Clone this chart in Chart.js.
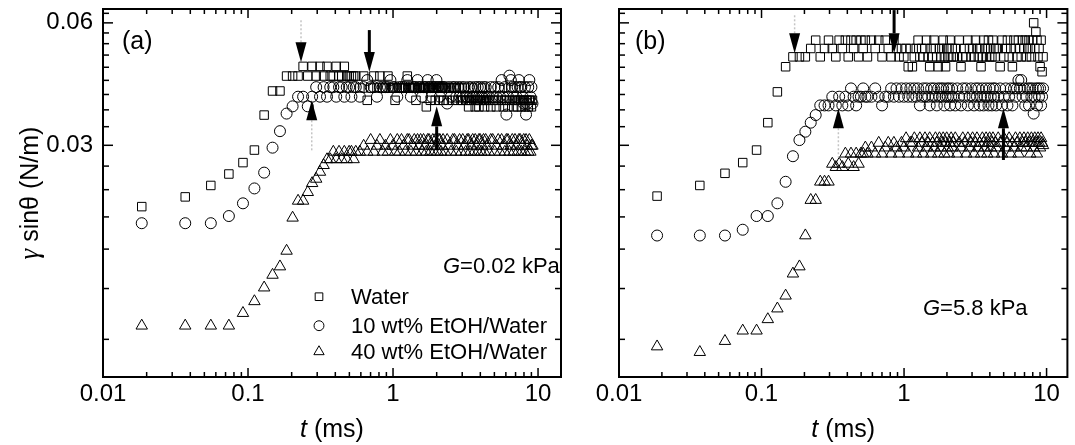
<!DOCTYPE html>
<html><head><meta charset="utf-8">
<script src="https://cdn.jsdelivr.net/npm/chart.js@4.4.1/dist/chart.umd.min.js"></script>
<style>
html,body{margin:0;padding:0;background:#fff;}
body{width:1075px;height:445px;position:relative;overflow:hidden;}
canvas{position:absolute;top:0;}
#ca{left:0;} #cb{left:570px;}
</style></head><body>
<canvas id="ca" width="570" height="445" style="width:570px;height:445px"></canvas>
<canvas id="cb" width="505" height="445" style="width:505px;height:445px"></canvas>
<script>
// ---------------- data ----------------
// sampling times (ms)
const times = [0.0185,0.0369,0.0554,0.0738,0.0923,0.1107,0.1292,0.1476,0.1661,0.1845,
0.2030,0.2214,0.2399,0.2583,0.2768,0.2952,0.3137,0.3321,0.3506,0.3690,
0.3875,0.4059,0.4244,0.4428,0.4613,0.4797,0.4982,0.5166,0.5351,0.5535,
0.5904,0.6273,0.6642,0.7011,0.7380,0.7749,0.8118,0.8487,0.8856,0.9225,0.9594,0.9963,1.0332,1.0701,1.1070,
1.1439,1.1808,1.2177,1.2546,1.2915,1.3284,1.3653,1.4022,1.4391,1.4760,
1.5129,1.5498,1.5867,1.6236,1.6605,1.6974,1.7343,1.7712,1.8081,1.8450,
1.8819,1.9188,1.9557,1.9926,2.0295,2.0664,2.1033,2.1402,2.1771,2.2140,
2.2878,2.3616,2.4354,2.5092,2.5830,2.6568,2.7306,2.8044,2.8782,2.9520,
3.0258,3.0996,3.1734,3.2472,3.3210,3.3948,3.4686,3.5424,3.6162,3.6900,
3.7638,3.8376,3.9114,3.9852,4.0590,4.1328,4.2066,4.2804,4.3542,4.4280,
4.5756,4.7232,4.8708,5.0184,5.1660,5.3136,5.4612,5.6088,5.7564,5.9040,
6.0516,6.1992,6.3468,6.4944,6.6420,6.7896,6.9372,7.0848,7.2324,7.3800,
7.5276,7.6752,7.8228,7.9704,8.1180,8.2656,8.4132,8.5608,8.7084,8.8560,
9.0036,9.1512,9.2988,9.4464];

const seriesNames = ['Water','10 wt% EtOH/Water','40 wt% EtOH/Water'];

// panel (a)  G = 0.02 kPa   (gamma*sin(theta), N/m)
const waterA = [0.0212,0.0224,0.0239,0.0255,0.0272,0.0292,0.0356,0.0408,0.0408,0.0444,
0.0444,0.0444,0.0469,0.0444,0.0469,0.0444,0.0469,0.0444,0.0469,0.0444,
0.0444,0.0469,0.0444,0.0444,0.0469,0.0444,0.0444,0.0444,0.0444,0.0444,
0.0415,0.0444,0.0387,0.0415,0.0444,0.0415,0.0444,0.0415,0.0415,0.0444,0.0415,0.0415,0.0387,0.0415,0.0415,
0.0415,0.0415,0.0415,0.0444,0.0415,0.0415,0.0415,0.0415,0.0387,0.0415,
0.0415,0.0415,0.0415,0.0415,0.0415,0.0373,0.0415,0.0415,0.0387,0.0415,
0.0415,0.0415,0.0387,0.0415,0.0415,0.0415,0.0387,0.0415,0.0415,0.0387,
0.0415,0.0387,0.0415,0.0415,0.0387,0.0415,0.0415,0.0387,0.0415,0.0387,
0.0387,0.0415,0.0387,0.0387,0.0373,0.0387,0.0387,0.0415,0.0387,0.0373,
0.0387,0.0387,0.0373,0.0387,0.0387,0.0415,0.0387,0.0373,0.0387,0.0387,
0.0387,0.0373,0.0387,0.0387,0.0373,0.0387,0.0415,0.0387,0.0373,0.0387,
0.0387,0.0373,0.0387,0.0415,0.0387,0.0373,0.0387,0.0387,0.0373,0.0387,
0.0387,0.0373,0.0387,0.0387,0.0373,0.0387,0.0387,0.0373,0.0387,0.0387,
0.0373,0.0387,null,null];
const eth10A = [0.0193,0.0193,0.0193,0.0201,0.0216,0.0235,0.0257,0.0296,0.0325,0.0359,
0.0374,0.0395,0.0395,0.0374,0.0395,0.0417,0.0395,0.0417,0.0395,0.0417,
0.0417,0.0395,0.0417,0.0417,0.0395,0.0417,0.0417,0.0395,0.0417,0.0417,
0.0395,0.0417,0.0434,0.0417,0.0417,0.0395,0.0417,0.0417,0.0417,0.0417,0.0434,0.0417,0.0417,0.0395,0.0417,
0.0417,0.0417,0.0417,0.0434,0.0417,0.0395,0.0417,0.0417,0.0417,0.0434,
0.0417,0.0417,0.0395,0.0417,0.0417,0.0417,0.0434,0.0417,0.0417,0.0395,
0.0417,0.0417,0.0417,0.0434,0.0417,0.0417,0.0395,0.0417,0.0417,0.0417,
0.0417,0.0380,0.0417,0.0395,0.0417,0.0417,0.0395,0.0417,0.0395,0.0417,
0.0395,0.0417,0.0395,0.0395,0.0417,0.0395,0.0417,0.0395,0.0395,0.0417,
0.0395,0.0417,0.0395,0.0417,0.0395,0.0395,0.0417,0.0395,0.0417,0.0395,
0.0395,0.0417,0.0395,0.0417,0.0395,0.0417,0.0395,0.0434,0.0395,0.0417,
0.0357,0.0395,0.0445,0.0434,0.0417,0.0395,0.0417,0.0395,0.0417,0.0434,
0.0417,0.0417,0.0395,0.0380,0.0417,0.0357,0.0380,0.0417,0.0434,0.0395,
0.0417,0.0380,null,null];
const eth40A = [0.0108,0.0108,0.0108,0.0108,0.0116,0.0124,0.0134,0.0144,0.0151,0.0165,
0.0199,0.0219,0.0219,0.0230,0.0242,0.0248,0.0258,0.0268,0.0277,0.0277,
0.0289,0.0277,0.0289,0.0277,0.0289,0.0277,0.0289,0.0289,0.0277,0.0289,
0.0289,0.0299,0.0289,0.0309,0.0289,0.0299,0.0309,0.0289,0.0299,0.0289,0.0309,0.0299,0.0289,0.0309,0.0289,
0.0309,0.0299,0.0289,0.0309,0.0309,0.0289,0.0299,0.0309,0.0289,0.0309,
0.0299,0.0309,0.0289,0.0309,0.0299,0.0289,0.0309,0.0309,0.0289,0.0299,
0.0309,0.0289,0.0309,0.0299,0.0289,0.0309,0.0309,0.0289,0.0299,0.0309,
0.0289,0.0309,0.0299,0.0289,0.0309,0.0309,0.0289,0.0299,0.0309,0.0289,
0.0309,0.0299,0.0289,0.0309,0.0309,0.0289,0.0299,0.0309,0.0289,0.0309,
0.0299,0.0289,0.0309,0.0309,0.0289,0.0299,0.0309,0.0289,0.0309,0.0299,
0.0289,0.0309,0.0309,0.0289,0.0299,0.0309,0.0289,0.0309,0.0299,0.0289,
0.0309,0.0309,0.0289,0.0299,0.0309,0.0289,0.0309,0.0299,0.0289,0.0309,
0.0309,0.0289,0.0299,0.0309,0.0289,0.0309,0.0299,0.0289,0.0309,0.0289,
0.0299,0.0299,null,null];

// panel (b)  G = 5.8 kPa
const waterB = [0.0225,0.0239,0.0256,0.0272,0.0292,0.0341,0.0406,0.0468,0.0495,0.0495,
0.0495,0.0519,0.0544,0.0495,0.0519,0.0544,0.0519,0.0495,0.0544,0.0519,
0.0544,0.0495,0.0544,0.0519,0.0544,0.0495,0.0544,0.0519,0.0544,0.0495,
0.0544,0.0519,0.0544,0.0495,0.0544,0.0519,0.0495,0.0544,0.0519,0.0495,0.0519,0.0495,0.0519,0.0468,0.0519,
0.0468,0.0495,0.0519,0.0544,0.0495,0.0519,0.0495,0.0519,0.0544,0.0495,
0.0468,0.0519,0.0495,0.0544,0.0519,0.0495,0.0468,0.0519,0.0495,0.0519,
0.0544,0.0495,0.0468,0.0519,0.0495,0.0519,0.0544,0.0495,0.0519,0.0495,
0.0519,0.0495,0.0544,0.0468,0.0495,0.0519,0.0495,0.0544,0.0519,0.0495,
0.0519,0.0495,0.0544,0.0519,0.0495,0.0519,0.0468,0.0495,0.0544,0.0519,
0.0495,0.0519,0.0544,0.0495,0.0519,0.0495,0.0544,0.0519,0.0495,0.0519,
0.0519,0.0468,0.0544,0.0495,0.0519,0.0544,0.0495,0.0519,0.0468,0.0544,
0.0519,0.0495,0.0544,0.0519,0.0495,0.0544,0.0519,0.0544,0.0495,0.0519,
0.0544,0.0519,0.0495,0.0544,0.0600,0.0519,0.0570,0.0544,0.0495,0.0519,
0.0468,0.0544,0.0455,0.0495];
const eth10B = [0.0180,0.0180,0.0180,0.0186,0.0201,0.0201,0.0216,0.0244,0.0282,0.0309,0.0324,0.0341,
0.0356,0.0376,0.0376,0.0376,0.0395,0.0376,0.0395,0.0376,0.0395,0.0376,0.0414,0.0395,0.0376,0.0395,0.0395,0.0414,0.0395,0.0395,
0.0395,0.0414,0.0395,0.0376,0.0395,0.0395,0.0414,0.0395,0.0414,0.0395,0.0414,0.0395,0.0414,0.0395,0.0414,
0.0395,0.0414,0.0395,0.0414,0.0376,0.0395,0.0414,0.0395,0.0414,0.0395,
0.0376,0.0414,0.0395,0.0414,0.0395,0.0376,0.0414,0.0395,0.0414,0.0395,
0.0414,0.0376,0.0395,0.0414,0.0395,0.0414,0.0376,0.0395,0.0414,0.0395,
0.0376,0.0414,0.0395,0.0376,0.0414,0.0395,0.0414,0.0376,0.0395,0.0414,
0.0395,0.0376,0.0414,0.0395,0.0414,0.0376,0.0395,0.0414,0.0376,0.0395,
0.0414,0.0395,0.0376,0.0414,0.0395,0.0376,0.0414,0.0395,0.0414,0.0376,
0.0395,0.0414,0.0376,0.0395,0.0414,0.0376,0.0395,0.0414,0.0376,0.0414,
0.0395,0.0414,0.0434,0.0414,0.0434,0.0395,0.0414,0.0376,0.0395,0.0414,
0.0376,0.0414,0.0395,0.0414,0.0359,0.0395,0.0414,0.0376,0.0414,0.0395,
0.0414,0.0376,0.0395,0.0414];
const eth40B = [0.0096,0.0093,0.0099,0.0105,0.0105,0.0112,0.0119,0.0128,0.0145,0.0151,0.0180,0.0220,0.0220,
0.0244,0.0244,0.0244,0.0270,0.0265,0.0270,0.0265,0.0286,0.0270,0.0286,0.0265,0.0286,0.0270,0.0286,0.0286,0.0296,0.0286,
0.0296,0.0286,0.0304,0.0286,0.0296,0.0304,0.0286,0.0304,0.0296,0.0286,0.0304,0.0296,0.0312,0.0286,0.0304,
0.0304,0.0312,0.0286,0.0296,0.0312,0.0304,0.0286,0.0312,0.0296,0.0304,
0.0312,0.0286,0.0304,0.0296,0.0312,0.0304,0.0286,0.0312,0.0296,0.0304,
0.0312,0.0286,0.0304,0.0312,0.0296,0.0286,0.0304,0.0312,0.0296,0.0304,
0.0312,0.0286,0.0304,0.0296,0.0312,0.0304,0.0286,0.0312,0.0296,0.0304,
0.0312,0.0286,0.0304,0.0312,0.0296,0.0304,0.0286,0.0312,0.0304,0.0296,
0.0312,0.0286,0.0304,0.0312,0.0296,0.0304,0.0312,0.0286,0.0304,0.0296,
0.0312,0.0304,0.0286,0.0312,0.0296,0.0304,0.0312,0.0286,0.0304,0.0296,
0.0312,0.0304,0.0286,0.0312,0.0296,0.0304,0.0312,0.0304,0.0296,0.0312,
0.0304,0.0286,0.0312,0.0304,0.0296,0.0312,0.0304,0.0286,0.0312,0.0304,
0.0296,0.0312,0.0304,0.0300];

// arrows: time, tip value, shaft-tail value (null = head only), dotted guide end (null = none)
const arrowTimeA  = [0.232, 0.6865, 0.2751, 2.00];
const arrowTipA   = [0.0480, 0.0454, 0.0387, 0.0374];
const arrowTailA  = [null, 0.0576, null, 0.0292];
const arrowGuideA = [0.0609, null, 0.0289, null];
const arrowTimeB  = [0.1707, 0.8515, 0.3461, 4.98];
const arrowTipB   = [0.0505, 0.0505, 0.0370, 0.0370];
const arrowTailB  = [null, 0.0645, null, 0.0276];
const arrowGuideB = [0.0627, null, 0.0280, null];

// axes
const xTickValues = [0.01, 0.1, 1, 10];
const xTickLabels = ['0.01', '0.1', '1', '10'];
const yTickValues = [0.03, 0.06];
const yTickLabels = ['0.03', '0.06'];
const yMinorTicks = [0.01,0.013333,0.016667,0.02,0.023333,0.026667,0.033333,0.036667,0.04,0.043333,0.046667,0.05,0.053333,0.056667,0.063333];
const yMin = 0.00808, yMax = 0.0649;

// ---------------- drawing ----------------
const FONT = '"Liberation Sans", Arial, Helvetica, sans-serif';
const SERIF = '"Liberation Serif", "Times New Roman", serif';
const styles = [
  {pointStyle:'rect', radius:6.0},
  {pointStyle:'circle', radius:5.5},
  {pointStyle:'triangle', radius:6.6}
];

function marker(ctx, style, x, y, r) {
  ctx.beginPath();
  if (style === 'rect') { const s = Math.SQRT1_2 * r; ctx.rect(x - s, y - s, 2 * s, 2 * s); }
  else if (style === 'circle') { ctx.arc(x, y, r, 0, Math.PI * 2); }
  else { ctx.moveTo(x, y - r); ctx.lineTo(x + 0.866 * r, y + 0.5 * r); ctx.lineTo(x - 0.866 * r, y + 0.5 * r); ctx.closePath(); }
  ctx.stroke();
}

function mixedText(ctx, parts, x, y, align) {
  let total = 0;
  const widths = parts.map(p => { ctx.font = p[1]; const w = ctx.measureText(p[0]).width; total += w; return w; });
  let cx = align === 'center' ? x - total / 2 : x;
  ctx.textAlign = 'left';
  parts.forEach((p, i) => { ctx.font = p[1]; ctx.fillText(p[0], cx, y); cx += widths[i]; });
}

function decor(cfg) {
  return {
    id: 'decor_' + cfg.id,
    afterDatasetsDraw(chart) {
      const ctx = chart.ctx, a = chart.chartArea, xs = chart.scales.x, ys = chart.scales.y;
      ctx.save();
      ctx.strokeStyle = '#000';
      ctx.fillStyle = '#000';
      ctx.lineWidth = 1.5;
      const seg = (x1, y1, x2, y2) => { ctx.beginPath(); ctx.moveTo(x1, y1); ctx.lineTo(x2, y2); ctx.stroke(); };
      const xt = (v, len) => { const p = xs.getPixelForValue(v); if (p < a.left + 1 || p > a.right - 1) return; seg(p, a.bottom, p, a.bottom - len); seg(p, a.top, p, a.top + len); };
      const yt = (v, len) => { const p = ys.getPixelForValue(v); if (p < a.top + 1 || p > a.bottom - 1) return; seg(a.left, p, a.left + len, p); seg(a.right, p, a.right - len, p); };
      xTickValues.forEach(v => xt(v, 9));
      for (let d = -2; d <= 1; d++) for (let k = 2; k <= 9; k++) xt(k * Math.pow(10, d), 5);
      yTickValues.forEach(v => yt(v, 10));
      yMinorTicks.forEach(v => yt(v, 6));
      ctx.lineWidth = 2;
      ctx.strokeRect(a.left, a.top, a.right - a.left, a.bottom - a.top);

      // arrows
      const HW = 11, HH = 20;
      cfg.arrowTime.forEach((t, i) => {
        const x = xs.getPixelForValue(t), ytip = ys.getPixelForValue(cfg.arrowTip[i]);
        const ref = cfg.arrowTail[i] !== null ? cfg.arrowTail[i] : cfg.arrowGuide[i];
        const down = ys.getPixelForValue(ref) < ytip;
        const ybase = down ? ytip - HH : ytip + HH;
        if (cfg.arrowGuide[i] !== null) {
          ctx.save(); ctx.strokeStyle = '#c4c4c4'; ctx.lineWidth = 1.5; ctx.setLineDash([2, 2]);
          seg(x, ybase, x, ys.getPixelForValue(cfg.arrowGuide[i])); ctx.restore();
        }
        if (cfg.arrowTail[i] !== null) {
          ctx.save(); ctx.lineWidth = 3; seg(x, ybase, x, ys.getPixelForValue(cfg.arrowTail[i])); ctx.restore();
        }
        ctx.beginPath(); ctx.moveTo(x - HW / 2, ybase); ctx.lineTo(x + HW / 2, ybase); ctx.lineTo(x, ytip); ctx.closePath(); ctx.fill();
      });

      // texts
      ctx.textBaseline = 'middle';
      ctx.font = '25px ' + FONT; ctx.textAlign = 'left';
      ctx.fillText(cfg.tag, a.left + cfg.tagDx, a.top + 33);
      mixedText(ctx, [['G', 'italic 22px ' + FONT], [cfg.gText, '22px ' + FONT]], cfg.gX, cfg.gY, 'left');
      mixedText(ctx, [['t', 'italic 25px ' + FONT], [' (ms)', '25px ' + FONT]], (a.left + a.right) / 2, 430, 'center');
      if (cfg.yTitle) {
        ctx.save(); ctx.translate(31, (a.top + a.bottom) / 2); ctx.rotate(-Math.PI / 2);
        mixedText(ctx, [['\u03b3', 'italic 27px ' + SERIF], [' sin\u03b8 (N/m)', '25px ' + FONT]], 0, 0, 'center');
        ctx.restore();
      }
      if (cfg.legend) {
        ctx.lineWidth = 1;
        const rows = [296.7, 325.7, 351.7];
        seriesNames.forEach((name, i) => {
          marker(ctx, styles[i].pointStyle, 319, rows[i], styles[i].radius * 0.9);
          ctx.font = '22px ' + FONT; ctx.textAlign = 'left'; ctx.fillText(name, 351, rows[i] + 1);
        });
      }
      ctx.restore();
    }
  };
}

function pts(vals) { return times.map((t, i) => ({x: t, y: vals[i]})).filter(p => p.y !== null && p.y !== undefined); }

function makeChart(cfg) {
  const datasets = cfg.series.map((vals, i) => ({
    label: seriesNames[i], data: pts(vals), showLine: false,
    pointStyle: styles[i].pointStyle, pointRadius: styles[i].radius,
    pointBorderColor: '#000', pointBackgroundColor: 'rgba(0,0,0,0)', pointBorderWidth: 1,
    borderColor: '#000', backgroundColor: 'rgba(0,0,0,0)'
  }));
  const zeroPad = s => { s.paddingTop = 0; s.paddingBottom = 0; s.paddingLeft = 0; s.paddingRight = 0; };
  return new Chart(document.getElementById(cfg.canvas), {
    type: 'scatter',
    data: {datasets},
    options: {
      responsive: false, animation: false, devicePixelRatio: 1, events: [],
      layout: {padding: {left: 0, right: cfg.padRight, top: 9, bottom: 0}},
      plugins: {legend: {display: false}, tooltip: {enabled: false}},
      scales: {
        x: {
          type: 'logarithmic', min: 0.01, max: cfg.xmax,
          grid: {display: false, drawTicks: false, tickLength: 0}, border: {display: false},
          afterBuildTicks: s => { s.ticks = xTickValues.map(v => ({value: v, major: true})); },
          afterFit: s => { s.height = 68; zeroPad(s); },
          ticks: {callback: (v, i) => xTickLabels[i], color: '#000', font: {size: 24, family: FONT},
                  padding: 3, maxRotation: 0, minRotation: 0, autoSkip: false}
        },
        y: {
          type: 'logarithmic', min: yMin, max: yMax,
          grid: {display: false, drawTicks: false, tickLength: 0}, border: {display: false},
          afterBuildTicks: s => { s.ticks = yTickValues.map(v => ({value: v, major: true})); },
          afterFit: s => { s.width = cfg.yWidth; zeroPad(s); },
          ticks: {display: cfg.yLabels, callback: (v, i) => yTickLabels[i], color: '#000',
                  font: {size: 24, family: FONT}, padding: 10, autoSkip: false}
        }
      }
    },
    plugins: [decor(cfg)]
  });
}

makeChart({id: 'a', canvas: 'ca', xmax: 14.4, padRight: 9, yWidth: 103, yLabels: true, yTitle: true,
  series: [waterA, eth10A, eth40A], tag: '(a)', tagDx: 19, gText: '=0.02 kPa', gX: 443, gY: 267, legend: true,
  arrowTime: arrowTimeA, arrowTip: arrowTipA, arrowTail: arrowTailA, arrowGuide: arrowGuideA});
makeChart({id: 'b', canvas: 'cb', xmax: 14.0, padRight: 1, yWidth: 49, yLabels: false, yTitle: false,
  series: [waterB, eth10B, eth40B], tag: '(b)', tagDx: 16, gText: '=5.8 kPa', gX: 353, gY: 309, legend: false,
  arrowTime: arrowTimeB, arrowTip: arrowTipB, arrowTail: arrowTailB, arrowGuide: arrowGuideB});
</script></body></html>
